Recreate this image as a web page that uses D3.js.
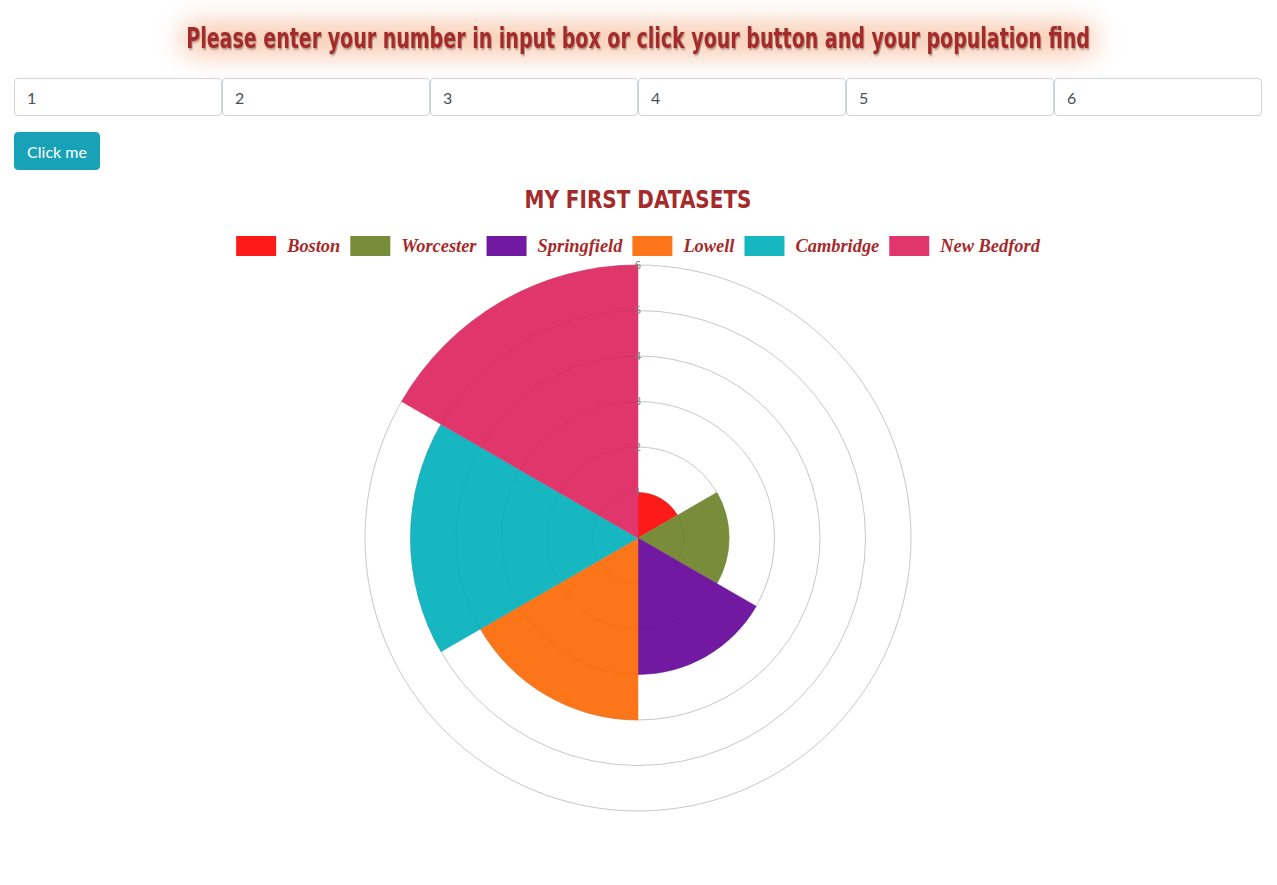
<!DOCTYPE html>
<html>
<head>
<meta charset="utf-8">
<script src="https://cdn.jsdelivr.net/npm/d3@7"></script>
<style>
  html, body { margin: 0; padding: 0; background: #fff; width: 1277px; height: 885px; overflow: hidden; }
  #page { position: relative; width: 1277px; height: 885px; }
  svg#chart { position: absolute; left: 0; top: 0; }
  .inp { position: absolute; top: 78px; height: 38px; width: 208px; box-sizing: border-box;
         border: 1px solid #ced4da; border-radius: 4px; padding: 0 12px; font: 16px Lato, "Open Sans", sans-serif; color: #495057; background: #fff; }
  #btn { position: absolute; left: 14px; top: 132px; width: 86px; height: 38px; box-sizing: border-box;
         background: #17a2b8; color: #fff; border: 1px solid #17a2b8; border-radius: 4px; font: 16px Lato, "Open Sans", sans-serif; padding: 0; }
</style>
</head>
<body>
<div id="page"></div>
<script>
// ---- data ----
const categories = ["Boston", "Worcester", "Springfield", "Lowell", "Cambridge", "New Bedford"];
const values = [1, 2, 3, 4, 5, 6];
const colors = ["#ff1a1a", "#788c3a", "#7219a2", "#fd7519", "#17b7c2", "#e0366c"];
const tickValues = [1, 2, 3, 4, 5, 6];
const inputValues = ["1", "2", "3", "4", "5", "6"];
const headerText = "Please enter your number in input box or click your button and your population find";
const chartTitle = "MY FIRST DATASETS";
const buttonLabel = "Click me";

const W = 1277, H = 885;
const page = d3.select("#page");
const svg = page.append("svg").attr("id", "chart").attr("width", W).attr("height", H);

const defs = svg.append("defs");
const f = defs.append("filter").attr("id", "glow").attr("x", "-20%").attr("y", "-200%").attr("width", "140%").attr("height", "500%");
f.append("feGaussianBlur").attr("stdDeviation", 13);
const sh = defs.append("filter").attr("id", "shadow").attr("x", "-5%").attr("y", "-50%").attr("width", "110%").attr("height", "200%");
sh.append("feDropShadow").attr("dx", 1.5).attr("dy", 1.5).attr("stdDeviation", 1.2)
  .attr("flood-color", "#000").attr("flood-opacity", 0.35);

// header glow
svg.append("rect").attr("x", 180).attr("y", 22).attr("width", 917).attr("height", 34).attr("rx", 17)
  .attr("fill", "#f4a272").attr("opacity", 0.55).attr("filter", "url(#glow)");

// text fitted horizontally to a target width by horizontal scaling
function fittedText(x, y, str, font, targetW, fill, filter) {
  const g = svg.append("g").attr("transform", `translate(${x},${y})`);
  const t = g.append("text").attr("x", 0).attr("y", 0).attr("text-anchor", "middle")
    .style("font", font).attr("fill", fill).text(str);
  if (filter) t.attr("filter", filter);
  const w = t.node().getComputedTextLength();
  g.attr("transform", `translate(${x},${y}) scale(${targetW / w},1)`);
  return t;
}
fittedText(638, 48, headerText, "bold 29px 'DejaVu Sans', sans-serif", 904, "#a52a2a", "url(#shadow)");

// inputs and button
inputValues.forEach((v, i) => {
  page.append("input").attr("class", "inp").style("left", (14 + i * 208) + "px").attr("value", v);
});
page.append("button").attr("id", "btn").text(buttonLabel);

// chart title
fittedText(638, 208, chartTitle, "bold 25px 'DejaVu Sans', sans-serif", 227, "#a52a2a", null);

// legend
const legFont = "bold italic 18.4px 'Liberation Serif', 'DejaVu Serif', serif";
const leg = svg.append("g");
const items = leg.selectAll("g").data(categories).join("g");
items.append("rect").attr("width", 40).attr("height", 20).attr("y", 236)
  .attr("fill", (d, i) => colors[i]);
items.append("text").attr("y", 252).style("font", legFont).attr("fill", "#a52a2a").text(d => d);
let widths = [];
items.select("text").each(function () { widths.push(this.getComputedTextLength()); });
const total = d3.sum(widths) + categories.length * 51 + (categories.length - 1) * 10;
let xc = 638 - total / 2;
items.each(function (d, i) {
  const g = d3.select(this);
  g.select("rect").attr("x", xc);
  g.select("text").attr("x", xc + 51);
  xc += 51 + widths[i] + 10;
});

// polar area
const cx = 638, cy = 538;
const r = d3.scaleLinear().domain([0, 6]).range([0, 273]);
const plot = svg.append("g").attr("transform", `translate(${cx},${cy})`);
plot.selectAll("circle.grid").data(tickValues).join("circle").attr("class", "grid")
  .attr("r", d => r(d)).attr("fill", "none").attr("stroke", "#d3d3d3").attr("stroke-width", 1);

const step = 2 * Math.PI / categories.length;
const arc = d3.arc().innerRadius(0);
plot.selectAll("path.slice").data(values).join("path").attr("class", "slice")
  .attr("d", (d, i) => arc({ outerRadius: r(d), startAngle: i * step, endAngle: (i + 1) * step }))
  .attr("fill", (d, i) => colors[i]).attr("stroke", (d, i) => colors[i]).attr("stroke-width", 0.5);

plot.selectAll("circle.grid2").data(tickValues).join("circle").attr("class", "grid2")
  .attr("r", d => r(d)).attr("fill", "none").attr("stroke", "rgba(0,0,0,0.05)").attr("stroke-width", 1);

plot.selectAll("text.tick").data(tickValues).join("text").attr("class", "tick")
  .attr("x", 0).attr("y", d => -r(d)).attr("dy", "0.35em").attr("text-anchor", "middle")
  .style("font", "11px 'Open Sans', sans-serif").attr("fill", "#777").text(d => d);
</script>
</body>
</html>
